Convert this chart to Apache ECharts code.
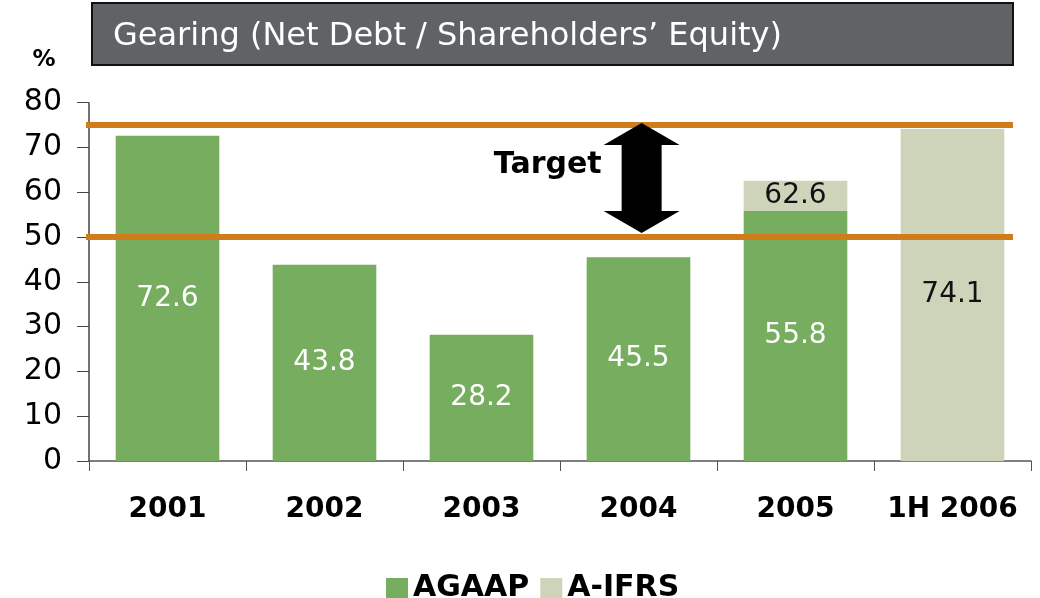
<!DOCTYPE html>
<html>
<head>
<meta charset="utf-8">
<script src="https://cdn.jsdelivr.net/npm/echarts@6/dist/echarts.min.js"></script>
<style>
  html, body { margin: 0; padding: 0; background: #fff; }
  #main { width: 1040px; height: 598px; }
</style>
</head>
<body>
<div id="main"></div>
<script>
// chart data
const categories = ["2001", "2002", "2003", "2004", "2005", "1H 2006"];
const agaap = [72.6, 43.8, 28.2, 45.5, 55.8, null];
const aifrs = [null, null, null, null, 62.6, 74.1];
const yTicks = [0, 10, 20, 30, 40, 50, 60, 70, 80];
const targetLow = 50;
const targetHigh = 75;

const GREEN = "#76ad5e";
const LIGHT = "#ced4ba";
const ORANGE = "#d07c1a";
const FONT = "DejaVu Sans";

// A-IFRS sits on top of AGAAP where both exist, so stack the difference
const aifrsStack = aifrs.map((v, i) => v == null ? "-" : +(v - (agaap[i] || 0)).toFixed(1));
const agaapData = agaap.map(v => v == null ? "-" : v);

let myChart = echarts.init(document.getElementById("main"));

const option = {
  animation: false,
  textStyle: { fontFamily: FONT },
  graphic: [
    {
      type: "rect",
      shape: { x: 92, y: 3, width: 921, height: 62 },
      style: { fill: "#5f6366", stroke: "#111", lineWidth: 2 },
      z: 1
    },
    {
      type: "text",
      x: 113, y: 37,
      style: {
        text: "Gearing (Net Debt / Shareholders\u2019 Equity)",
        fill: "#fff", font: "32px '" + FONT + "'", verticalAlign: "middle"
      },
      z: 2
    },
    {
      type: "text",
      x: 44, y: 60,
      style: {
        text: "%", fill: "#000", font: "bold 23px '" + FONT + "'",
        align: "center", verticalAlign: "middle"
      }
    }
  ],
  legend: {
    data: ["AGAAP", "A-IFRS"],
    left: 381,
    top: 568,
    icon: "rect",
    itemWidth: 22,
    itemHeight: 20,
    itemGap: 11,
    textStyle: { fontFamily: FONT, fontSize: 30, fontWeight: "bold", color: "#000" }
  },
  grid: {
    left: 89, right: 9, top: 102.7, bottom: 137,
    outerBoundsMode: "none"
  },
  xAxis: [
    {
      type: "category",
      data: categories,
      axisLine: { lineStyle: { color: "#555", width: 1.5 } },
      axisTick: { show: true, interval: 0, length: 10, lineStyle: { color: "#555" } },
      axisLabel: { interval: 0, fontSize: 28, fontWeight: "bold", color: "#000", margin: 35 }
    },
    { type: "value", min: 0, max: 6, show: false }
  ],
  yAxis: {
    type: "value",
    min: yTicks[0],
    max: yTicks[yTicks.length - 1],
    interval: 10,
    axisLine: { show: true, lineStyle: { color: "#444", width: 1.5 } },
    axisTick: { show: true, length: 12, lineStyle: { color: "#444" } },
    splitLine: { show: false },
    axisLabel: { fontSize: 30, color: "#000", margin: 27 }
  },
  series: [
    {
      name: "AGAAP",
      type: "bar",
      stack: "g",
      barWidth: "66%",
      itemStyle: { color: GREEN },
      data: agaapData,
      label: {
        show: true, position: "inside", color: "#fff",
        fontSize: 28, fontFamily: FONT
      }
    },
    {
      name: "A-IFRS",
      type: "bar",
      stack: "g",
      barWidth: "66%",
      itemStyle: { color: LIGHT },
      data: aifrsStack,
      label: {
        show: true, position: "inside", color: "#111",
        fontSize: 28, fontFamily: FONT,
        formatter: p => aifrs[p.dataIndex].toFixed(1)
      }
    },
    {
      name: "targetHigh",
      type: "line",
      xAxisIndex: 1,
      symbol: "none",
      silent: true,
      z: 5,
      lineStyle: { color: ORANGE, width: 6 },
      data: [[-0.025, targetHigh], [5.885, targetHigh]]
    },
    {
      name: "targetLow",
      type: "line",
      xAxisIndex: 1,
      symbol: "none",
      silent: true,
      z: 5,
      lineStyle: { color: ORANGE, width: 6 },
      data: [[-0.025, targetLow], [5.885, targetLow]]
    },
    {
      name: "arrow",
      type: "custom",
      xAxisIndex: 1,
      silent: true,
      z: 6,
      data: [[3.52, targetHigh, targetLow]],
      renderItem: function (params, api) {
        const top = api.coord([api.value(0), api.value(1)]);
        const bot = api.coord([api.value(0), api.value(2)]);
        const x = top[0];
        const y1 = top[1] - 2;
        const y2 = bot[1] - 4;
        const hw = 38, sw = 20, hl = 22;
        return {
          type: "group",
          children: [
            {
              type: "polygon",
              shape: {
                points: [
                  [x, y1], [x + hw, y1 + hl], [x + sw, y1 + hl],
                  [x + sw, y2 - hl], [x + hw, y2 - hl], [x, y2],
                  [x - hw, y2 - hl], [x - sw, y2 - hl], [x - sw, y1 + hl],
                  [x - hw, y1 + hl]
                ]
              },
              style: { fill: "#000" }
            },
            {
              type: "text",
              x: x - 40,
              y: api.coord([0, 66])[1],
              style: {
                text: "Target", fill: "#000",
                font: "bold 30px '" + FONT + "'",
                align: "right", verticalAlign: "middle"
              }
            }
          ]
        };
      }
    }
  ]
};

myChart.setOption(option);
</script>
</body>
</html>
